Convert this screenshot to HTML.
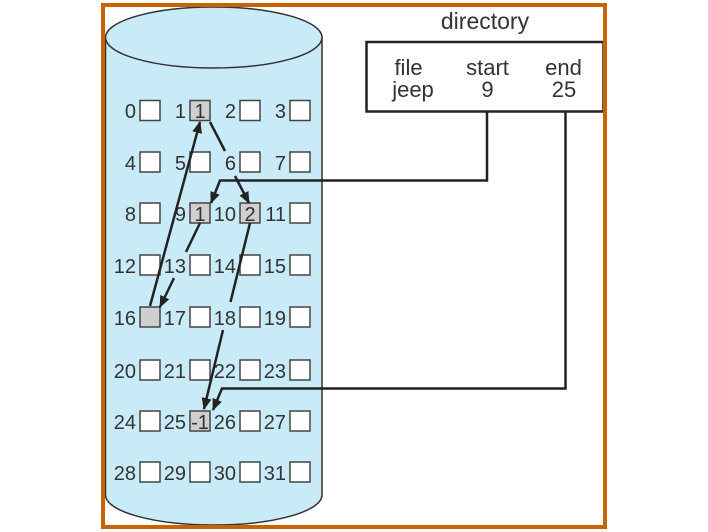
<!DOCTYPE html>
<html>
<head>
<meta charset="utf-8">
<style>
html,body{margin:0;padding:0;background:#fff;}
svg{display:block;}
text{font-family:"Liberation Sans",Arial,sans-serif;fill:#333;}
</style>
</head>
<body>
<svg width="708" height="532" viewBox="0 0 708 532" xmlns="http://www.w3.org/2000/svg">
<defs>
<marker id="ah" markerUnits="userSpaceOnUse" markerWidth="12" markerHeight="10" refX="11" refY="5" orient="auto">
<path d="M0,0 L12,5 L0,10 z" fill="#222"/>
</marker>
</defs>
<rect x="0" y="0" width="708" height="532" fill="#fff"/>

<!-- cylinder -->
<path d="M105.5,38 V495 A108.25,30 0 0 0 322,495 V38 Z" fill="#c8ebf7" stroke="#333" stroke-width="1.5"/>
<ellipse cx="213.75" cy="37.5" rx="108.25" ry="30.5" fill="#c8ebf7" stroke="#333" stroke-width="1.5"/>

<!-- boxes -->
<g stroke="#444" stroke-width="1.5">
<rect x="140" y="100.5" width="20" height="20" fill="#fff"/>
<rect x="190" y="100.5" width="20" height="20" fill="#cfcfcf"/>
<rect x="240" y="100.5" width="20" height="20" fill="#fff"/>
<rect x="290" y="100.5" width="20" height="20" fill="#fff"/>
<rect x="140" y="152" width="20" height="20" fill="#fff"/>
<rect x="190" y="152" width="20" height="20" fill="#fff"/>
<rect x="240" y="152" width="20" height="20" fill="#fff"/>
<rect x="290" y="152" width="20" height="20" fill="#fff"/>
<rect x="140" y="203" width="20" height="20" fill="#fff"/>
<rect x="190" y="203" width="20" height="20" fill="#cfcfcf"/>
<rect x="240" y="203" width="20" height="20" fill="#cfcfcf"/>
<rect x="290" y="203" width="20" height="20" fill="#fff"/>
<rect x="140" y="255" width="20" height="20" fill="#fff"/>
<rect x="190" y="255" width="20" height="20" fill="#fff"/>
<rect x="240" y="255" width="20" height="20" fill="#fff"/>
<rect x="290" y="255" width="20" height="20" fill="#fff"/>
<rect x="140" y="307" width="20" height="20" fill="#cfcfcf"/>
<rect x="190" y="307" width="20" height="20" fill="#fff"/>
<rect x="240" y="307" width="20" height="20" fill="#fff"/>
<rect x="290" y="307" width="20" height="20" fill="#fff"/>
<rect x="140" y="360" width="20" height="20" fill="#fff"/>
<rect x="190" y="360" width="20" height="20" fill="#fff"/>
<rect x="240" y="360" width="20" height="20" fill="#fff"/>
<rect x="290" y="360" width="20" height="20" fill="#fff"/>
<rect x="140" y="411" width="20" height="20" fill="#fff"/>
<rect x="190" y="411" width="20" height="20" fill="#cfcfcf"/>
<rect x="240" y="411" width="20" height="20" fill="#fff"/>
<rect x="290" y="411" width="20" height="20" fill="#fff"/>
<rect x="140" y="462" width="20" height="20" fill="#fff"/>
<rect x="190" y="462" width="20" height="20" fill="#fff"/>
<rect x="240" y="462" width="20" height="20" fill="#fff"/>
<rect x="290" y="462" width="20" height="20" fill="#fff"/>
</g>

<!-- labels -->
<g font-size="20" text-anchor="end">
<text x="136" y="118">0</text><text x="186" y="118">1</text><text x="236" y="118">2</text><text x="286" y="118">3</text>
<text x="136" y="170">4</text><text x="186" y="170">5</text><text x="236" y="170">6</text><text x="286" y="170">7</text>
<text x="136" y="221">8</text><text x="186" y="221">9</text><text x="236" y="221">10</text><text x="286" y="221">11</text>
<text x="136" y="273">12</text><text x="186" y="273">13</text><text x="236" y="273">14</text><text x="286" y="273">15</text>
<text x="136" y="325">16</text><text x="186" y="325">17</text><text x="236" y="325">18</text><text x="286" y="325">19</text>
<text x="136" y="378">20</text><text x="186" y="378">21</text><text x="236" y="378">22</text><text x="286" y="378">23</text>
<text x="136" y="429">24</text><text x="186" y="429">25</text><text x="236" y="429">26</text><text x="286" y="429">27</text>
<text x="136" y="480">28</text><text x="186" y="480">29</text><text x="236" y="480">30</text><text x="286" y="480">31</text>
</g>
<g font-size="20" text-anchor="middle">
<text x="200" y="118">1</text>
<text x="200" y="221">1</text>
<text x="250" y="221">2</text>
<text x="200" y="429">-1</text>
</g>

<!-- chain arrows -->
<g stroke="#222" stroke-width="2.5" fill="none">
<line x1="150" y1="306" x2="200" y2="122" marker-end="url(#ah)"/>
<line x1="210" y1="122" x2="225" y2="151"/>
<line x1="235" y1="176" x2="249" y2="203" marker-end="url(#ah)"/>
<line x1="250" y1="223" x2="230.5" y2="302"/>
<line x1="223" y1="330" x2="204" y2="409" marker-end="url(#ah)"/>
<line x1="200" y1="223" x2="186" y2="252"/>
<line x1="174" y1="278" x2="160" y2="307" marker-end="url(#ah)"/>
<path d="M487,111 V180.5 H220 L211,203" marker-end="url(#ah)"/>
<path d="M565.5,111 V388.5 H222 L213,410" marker-end="url(#ah)"/>
</g>

<!-- directory -->
<text x="485" y="29" font-size="23" text-anchor="middle">directory</text>
<rect x="366.5" y="42" width="237" height="69.5" fill="none" stroke="#222" stroke-width="2.5"/>
<g font-size="22" text-anchor="middle">
<text x="408.5" y="75">file</text>
<text x="487.5" y="75">start</text>
<text x="563.5" y="75">end</text>
<text x="413" y="97">jeep</text>
<text x="487.5" y="97">9</text>
<text x="564" y="97">25</text>
</g>

<!-- frame -->
<rect x="103" y="5" width="502" height="522" fill="none" stroke="#c86400" stroke-width="4"/>
</svg>
</body>
</html>
